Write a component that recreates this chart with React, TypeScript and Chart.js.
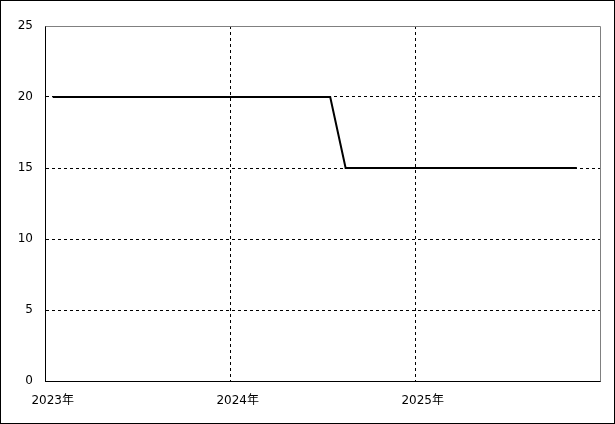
import React, { useEffect, useRef } from "react";
import { Chart, registerables } from "chart.js";

Chart.register(...registerables);

const months = [
  "2023-01", "2023-02", "2023-03", "2023-04", "2023-05", "2023-06",
  "2023-07", "2023-08", "2023-09", "2023-10", "2023-11", "2023-12",
  "2024-01", "2024-02", "2024-03", "2024-04", "2024-05", "2024-06",
  "2024-07", "2024-08", "2024-09", "2024-10", "2024-11", "2024-12",
  "2025-01", "2025-02", "2025-03", "2025-04", "2025-05", "2025-06",
  "2025-07", "2025-08", "2025-09", "2025-10", "2025-11", "2025-12",
];

const values: (number | null)[] = [
  20, 20, 20, 20, 20, 20, 20, 20, 20, 20, 20, 20,
  20, 20, 20, 20, 20, 20, 20, 15, 15, 15, 15, 15,
  15, 15, 15, 15, 15, 15, 15, 15, 15, 15, 15, null,
];

const yTicks = [0, 5, 10, 15, 20, 25];
const yearSuffix = "年";

const FONT = { family: "'DejaVu Sans', 'Noto Sans CJK JP', sans-serif", size: 12 };

const framePlugin = {
  id: "frame",
  afterDraw(chart: any) {
    const { ctx, chartArea, width, height } = chart;
    ctx.save();
    ctx.setLineDash([]);
    ctx.lineWidth = 1;
    ctx.strokeStyle = "#808080";
    ctx.beginPath();
    ctx.moveTo(Math.round(chartArea.left) + 0.5, Math.round(chartArea.top) + 0.5);
    ctx.lineTo(Math.round(chartArea.right) + 0.5, Math.round(chartArea.top) + 0.5);
    ctx.lineTo(Math.round(chartArea.right) + 0.5, Math.round(chartArea.bottom) + 0.5);
    ctx.stroke();
    ctx.strokeStyle = "#000000";
    ctx.strokeRect(0.5, 0.5, width - 1, height - 1);
    ctx.restore();
  },
};

export default function App() {
  const ref = useRef<HTMLCanvasElement | null>(null);
  useEffect(() => {
    if (!ref.current) return;
    const chart = new Chart(ref.current, {
      type: "line",
      data: {
        labels: months,
        datasets: [
          {
            data: values,
            borderColor: "#000000",
            borderWidth: 2,
            pointRadius: 0,
            tension: 0,
            fill: false,
          },
        ],
      },
      options: {
        responsive: false,
        animation: false,
        devicePixelRatio: 1,
        layout: { padding: { left: 0, top: 26, right: 15, bottom: 0 } },
        plugins: { legend: { display: false }, tooltip: { enabled: false } },
        scales: {
          x: {
            type: "category",
            offset: true,
            afterFit: (s: any) => { s.height = 43; },
            grid: {
              offset: true,
              drawTicks: false,
              lineWidth: 1,
              color: (c: any) => {
                const i = c.index;
                if (i === undefined || i <= 0 || i >= months.length) return "transparent";
                return months[i].endsWith("-01") ? "#000000" : "transparent";
              },
            },
            border: { display: true, color: "#000000", width: 1, dash: [3, 3] },
            ticks: {
              autoSkip: false,
              maxRotation: 0,
              minRotation: 0,
              padding: 13,
              color: "#000000",
              font: FONT,
              callback: (_v: any, i: number) => {
                const m = months[i];
                return m.endsWith("-01") ? m.slice(0, 4) + yearSuffix : "";
              },
            },
          },
          y: {
            min: yTicks[0],
            max: yTicks[yTicks.length - 1],
            afterFit: (s: any) => { s.width = 45; },
            afterBuildTicks: (s: any) => { s.ticks = yTicks.map((v) => ({ value: v })); },
            grid: {
              drawTicks: false,
              lineWidth: 1,
              color: (c: any) => {
                const v = c.tick?.value;
                if (v === undefined || v === yTicks[0] || v === yTicks[yTicks.length - 1]) return "transparent";
                return "#000000";
              },
            },
            border: { display: true, color: "#000000", width: 1, dash: [3, 3] },
            ticks: {
              padding: 12,
              color: "#000000",
              font: FONT,
            },
          },
        },
      },
      plugins: [framePlugin],
    });
    return () => chart.destroy();
  }, []);
  return (
    <div style={{ position: "fixed", left: 0, top: 0, width: 615, height: 424 }}>
      <canvas ref={ref} width={615} height={424} style={{ display: "block" }} />
    </div>
  );
}
